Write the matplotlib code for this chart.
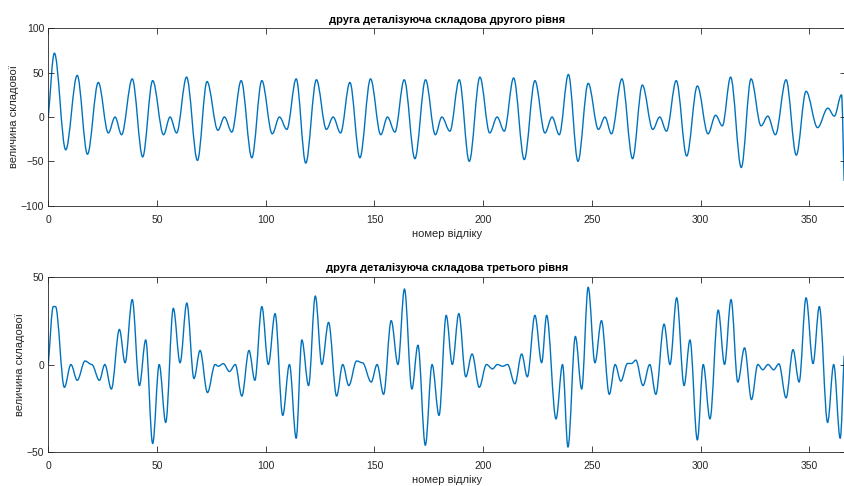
import numpy as np
import matplotlib.pyplot as plt
from matplotlib.path import Path
from matplotlib.patches import PathPatch

plt.rcParams['font.family'] = ['Liberation Sans', 'DejaVu Sans']

# друга деталізуюча складова другого рівня (екстремуми)
t_lvl2 = [0, 2.8, 8, 13.3, 18, 23, 27.6, 30.7, 33.7, 38.6, 43.4, 48, 53, 56, 59,
          63.6, 68.6, 73, 78, 81, 84.4, 88.7, 93.6, 98.2, 103, 106.3, 109.7,
          114, 118.4, 123.3, 127.9, 131, 134.4, 138.7, 143.3, 148.2, 152.9,
          156, 159.4, 163.7, 168.6, 173.5, 178, 181, 184.7, 189, 193.6, 198.5,
          203, 206.4, 209.7, 214, 218.9, 223.8, 228.4, 231.7, 235, 239.2,
          243.6, 248.3, 253, 256, 259, 263.8, 268.7, 273.2, 278, 281.2, 284.3,
          288.8, 293.6, 298.5, 303.4, 306.9, 310, 313.8, 318.7, 323.2, 327.8,
          330.9, 334.4, 339.3, 344, 348.5, 353.8, 358.5, 361.5, 364.8, 366]
v_lvl2 = [0, 72, -37, 47, -42, 39, -18, 0, -20, 43, -45, 41, -20, 0, -18,
          45, -49, 40, -15, 0, -17, 41, -46, 41, -19, 0, -14,
          43, -52, 42, -14, 0, -18, 39, -46, 43, -20,
          0, -17, 42, -47, 42, -20, 0, -16, 42, -50, 45,
          -18, 0, -16, 44, -48, 41, -18, 0, -20, 48,
          -50, 38, -14, 0, -19, 43, -47, 36, -14, 0, -16,
          41, -44, 35, -19, 2, -10, 45, -57, 43, -10,
          1, -20, 42, -43, 29, -12, 10, 1, 25, -72]

# друга деталізуюча складова третього рівня (екстремуми)
t_lvl3 = [0, 2.3, 3.3, 7.4, 10.4, 13.3, 16.9, 20, 23.5, 26, 29, 32.7, 35.3,
          38.6, 41.9, 44.8, 48, 51, 54, 57.5, 60.6, 63.7, 67, 69.8, 73.2,
          76.7, 78.2, 80.5, 83.3, 86, 89, 92.3, 95, 98.2, 101.2, 104.3, 107.8,
          110.9, 114, 116.6, 119.7, 122.8, 125.8, 128.9, 132.6, 135.4, 138.2,
          141.8, 144.5, 148.5, 151.2, 154.2, 157.7, 160.8, 163.8, 167.2, 170,
          173.4, 176.5, 179.7, 183, 185.8, 188.8, 192, 194.9, 198.2, 201.5,
          204.3, 206.5, 209, 211.2, 214.6, 217.7, 220.3, 223.8, 226.9, 229.2,
          233.5, 236.5, 239, 242.4, 245.3, 248.3, 251.4, 254.4, 258, 260.7,
          263.3, 266.4, 268.3, 270.2, 273.5, 276.6, 279.4, 283.2, 285.9, 289,
          292.4, 295.1, 298.5, 301.2, 304.3, 308.1, 311, 314, 317.1, 320.2,
          323.4, 326.3, 328.6, 331, 333.6, 336, 339.3, 342.5, 345.3, 348.5,
          351.7, 354.6, 358.4, 361.2, 364.2, 366]
v_lvl3 = [0, 33, 33, -13, 0, -9, 2, 0, -9, 0, -14, 20, 1,
          37, -12, 14, -45, 0, -33, 32, 1, 35, -8, 8, -16,
          0, -1, 0.5, -4, 0, -18, 8, -9, 33, 0, 29, -29,
          0, -42, 14, -12, 39, 0, 24, -18, 0, -12,
          2, 1, -10, 0, -17, 25, 0, 43, -14, 11,
          -46, 0, -29, 28, 0, 29, -7, 6, -13, 0,
          -2.5, 0, -1, 0, -11, 6, -7, 28, 1, 28,
          -31, 0, -47, 16, -14, 44, 1, 25, -17, 0,
          -9.5, 0.6, 0.6, 2.5, -12, 0, -17, 23, 0, 38,
          -12, 14, -43, 0, -31, 31, 0, 37, -10, 9.5,
          -20, 0, -3, 0, -3, 0.4, -19, 8.5, -10, 38,
          0.5, 33, -33, 0, -42, 5]

x_ticks = [0, 50, 100, 150, 200, 250, 300, 350]
line_color = '#0072BD'
axis_color = '#262626'


def smooth_path(t, v, k=0.35):
    # cubic segments between extrema, flat tangent at each interior extremum
    t = np.asarray(t, float)
    v = np.asarray(v, float)
    m = np.zeros(len(t))
    m[0] = (v[1] - v[0]) / (t[1] - t[0])
    m[-1] = (v[-1] - v[-2]) / (t[-1] - t[-2])
    verts = [(t[0], v[0])]
    codes = [Path.MOVETO]
    for i in range(len(t) - 1):
        dt = t[i + 1] - t[i]
        verts += [(t[i] + k * dt, v[i] + k * dt * m[i]),
                  (t[i + 1] - k * dt, v[i + 1] - k * dt * m[i + 1]),
                  (t[i + 1], v[i + 1])]
        codes += [Path.CURVE4] * 3
    return Path(verts, codes)


W, H = 845, 486
fig = plt.figure(figsize=(W / 100, H / 100), dpi=100)
ax1 = fig.add_axes([48.3 / W, 1 - 205.7 / H, 798 / W, (205.7 - 28.3) / H])
ax2 = fig.add_axes([48.3 / W, 1 - 452.3 / H, 798 / W, (452.3 - 276.7) / H])


def style(ax, title, yticks):
    ax.set_xlim(0, 367)
    ax.set_ylim(yticks[0], yticks[-1])
    ax.set_xticks(x_ticks)
    ax.set_yticks(yticks)
    ax.tick_params(direction='in', length=4, width=0.6, color=axis_color,
                   labelcolor=axis_color, labelsize=7.5, top=True, right=True,
                   pad=3)
    ax.tick_params(axis='x', pad=6.5)
    for s in ax.spines.values():
        s.set_color(axis_color)
        s.set_linewidth(0.6)
    ax.set_title(title, fontsize=8, fontweight='bold', color='black', pad=4)
    ax.set_xlabel('номер відліку', fontsize=8, color=axis_color, labelpad=3)
    ax.set_ylabel('величина складової', fontsize=8, color=axis_color,
                  labelpad=1)


ax1.add_patch(PathPatch(smooth_path(t_lvl2, v_lvl2), fill=False,
                        edgecolor=line_color, lw=1.0, joinstyle='round'))
style(ax1, 'друга деталізуюча складова другого рівня', [-100, -50, 0, 50, 100])

ax2.add_patch(PathPatch(smooth_path(t_lvl3, v_lvl3), fill=False,
                        edgecolor=line_color, lw=1.0, joinstyle='round'))
style(ax2, 'друга деталізуюча складова третього рівня', [-50, 0, 50])

fig.savefig('out.png', dpi=100)
